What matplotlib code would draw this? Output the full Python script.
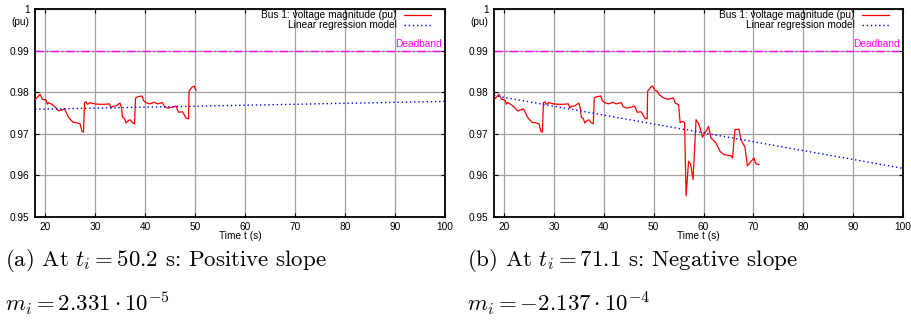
import matplotlib
matplotlib.use('Agg')
import matplotlib.pyplot as plt
import numpy as np

plt.rcParams['font.family'] = ['Liberation Sans', 'DejaVu Sans']
plt.rcParams['mathtext.fontset'] = 'cm'

# bus 1 voltage magnitude (pu), shared by both snapshots
time_s = [18.0, 19.0, 19.5, 20.2, 20.5, 20.7, 21.5, 22.2, 22.7, 23.2, 23.9, 24.2,
          24.7, 25.2, 25.7, 26.2, 27.0, 27.4, 27.7, 27.9, 28.2, 28.5, 29.0, 29.9,
          30.9, 31.9, 32.9, 33.2, 33.5, 34.1, 34.5, 35.0, 35.3, 35.5, 35.9, 36.2,
          36.5, 37.0, 37.5, 37.9, 38.1, 38.5, 39.4, 39.7, 40.2, 40.9, 41.5, 41.8,
          42.5, 43.5, 43.9, 44.5, 45.5, 46.2, 46.7, 47.5, 48.2, 48.7, 48.8, 49.4,
          49.8, 50.2, 50.7, 51.1, 51.8, 52.7, 54.0, 54.3, 55.0, 55.3, 55.8, 56.2,
          56.5, 57.0, 57.4, 57.9, 58.5, 59.0, 59.5, 59.8, 60.5, 61.0, 61.5, 62.5,
          63.3, 64.1, 65.5, 65.8, 66.3, 67.1, 67.5, 68.3, 68.8, 69.4, 70.1, 70.5,
          71.1]
voltage = [0.9782, 0.9795, 0.9783, 0.9781, 0.9771, 0.9775, 0.9770, 0.9762, 0.9755,
           0.9757, 0.9760, 0.9753, 0.9740, 0.9733, 0.9727, 0.9727, 0.9724, 0.9706,
           0.9704, 0.9775, 0.9777, 0.9771, 0.9775, 0.9772, 0.9771, 0.9771, 0.9772,
           0.9762, 0.9766, 0.9767, 0.9770, 0.9774, 0.9762, 0.9740, 0.9737, 0.9726,
           0.9730, 0.9734, 0.9727, 0.9724, 0.9786, 0.9789, 0.9791, 0.9780, 0.9775,
           0.9772, 0.9774, 0.9776, 0.9772, 0.9775, 0.9765, 0.9762, 0.9764, 0.9767,
           0.9752, 0.9753, 0.9738, 0.9736, 0.9803, 0.9812, 0.9815, 0.9805, 0.9803,
           0.9794, 0.9788, 0.9783, 0.9786, 0.9774, 0.9770, 0.9727, 0.9730, 0.9727,
           0.9551, 0.9634, 0.9628, 0.9590, 0.9734, 0.9725, 0.9706, 0.9692, 0.9706,
           0.9718, 0.9690, 0.9678, 0.9658, 0.9650, 0.9647, 0.9642, 0.9710, 0.9711,
           0.9686, 0.9668, 0.9623, 0.9632, 0.9642, 0.9628, 0.9626]

t_end = [50.2, 71.1]
reg_t = [18.0, 100.0]
reg_v = [[0.9759, 0.9778], [0.9792, 0.9617]]
deadband = 0.99
captions = [r'(a) At $t_i = 50.2$ s: Positive slope',
            r'(b) At $t_i = 71.1$ s: Negative slope']
slopes = [r'$m_i = 2.331 \cdot 10^{-5}$', r'$m_i = -2.137 \cdot 10^{-4}$']
xticks = [20, 30, 40, 50, 60, 70, 80, 90, 100]
yticks = [0.95, 0.96, 0.97, 0.98, 0.99, 1.0]
ytick_labels = ['0.95', '0.96', '0.97', '0.98', '0.99', '1']

fs = 7.3
fig = plt.figure(figsize=(9.12, 3.28), dpi=100)
positions = [[0.0384, 0.3384, 0.4496, 0.634], [0.5417, 0.3384, 0.4485, 0.634]]
cap_x = [0.006, 0.512]

t = np.array(time_s)
v = np.array(voltage)
for i in range(2):
    ax = fig.add_axes(positions[i])
    ax.set_xlim(18, 100)
    ax.set_ylim(0.95, 1.0)
    ax.set_xticks(xticks)
    ax.set_yticks(yticks)
    ax.set_yticklabels(ytick_labels)
    ax.grid(True, color='#a0a0a0', lw=0.9, zorder=0)
    ax.tick_params(direction='in', top=True, right=True, labelsize=fs,
                   length=3, width=0.8, pad=3.5)
    ax.tick_params(axis='y', pad=4)
    for s in ax.spines.values():
        s.set_linewidth(1.3)
    ax.set_xlabel('Time t (s)', fontsize=fs, labelpad=-0.5)

    # white box behind legend, like gnuplot
    ax.add_patch(plt.Rectangle((0.48, 0.89), 0.52, 0.11, transform=ax.transAxes,
                               facecolor='white', edgecolor='none', zorder=1))

    ax.axhline(deadband, color='#ff00ff', lw=1.0, ls=(0, (6, 2, 1, 2)), zorder=2)
    ax.text(0.993, deadband + 0.0003, 'Deadband', color='#ff00ff', fontsize=fs,
            ha='right', va='bottom', transform=ax.get_yaxis_transform(), zorder=3)

    mask = t <= t_end[i] + 1e-9
    ax.plot(t[mask], v[mask], color='red', lw=0.9, zorder=3,
            label='Bus 1: voltage magnitude (pu)')
    ax.plot(reg_t, reg_v[i], color='blue', lw=1.0, ls=(0, (1, 2)), zorder=3,
            label='Linear regression model')
    leg = ax.legend(loc='upper right', bbox_to_anchor=(0.968, 1.0), fontsize=fs,
                    markerfirst=False, frameon=False, handlelength=2.7,
                    handletextpad=0.7, labelspacing=0.0, borderaxespad=0.0,
                    borderpad=0.1)
    for txt in leg.get_texts():
        txt.set_ha('right')
    leg.set_zorder(4)

    ax.text(-0.014, 0.962, '(pu)', transform=ax.transAxes, fontsize=fs,
            ha='right', va='top')

    fig.text(cap_x[i], 0.19, captions[i], fontsize=16.5, family='cmr10',
             va='baseline')
    fig.text(cap_x[i], 0.05, slopes[i], fontsize=16.5, va='baseline')

fig.savefig('out.png', dpi=100)
